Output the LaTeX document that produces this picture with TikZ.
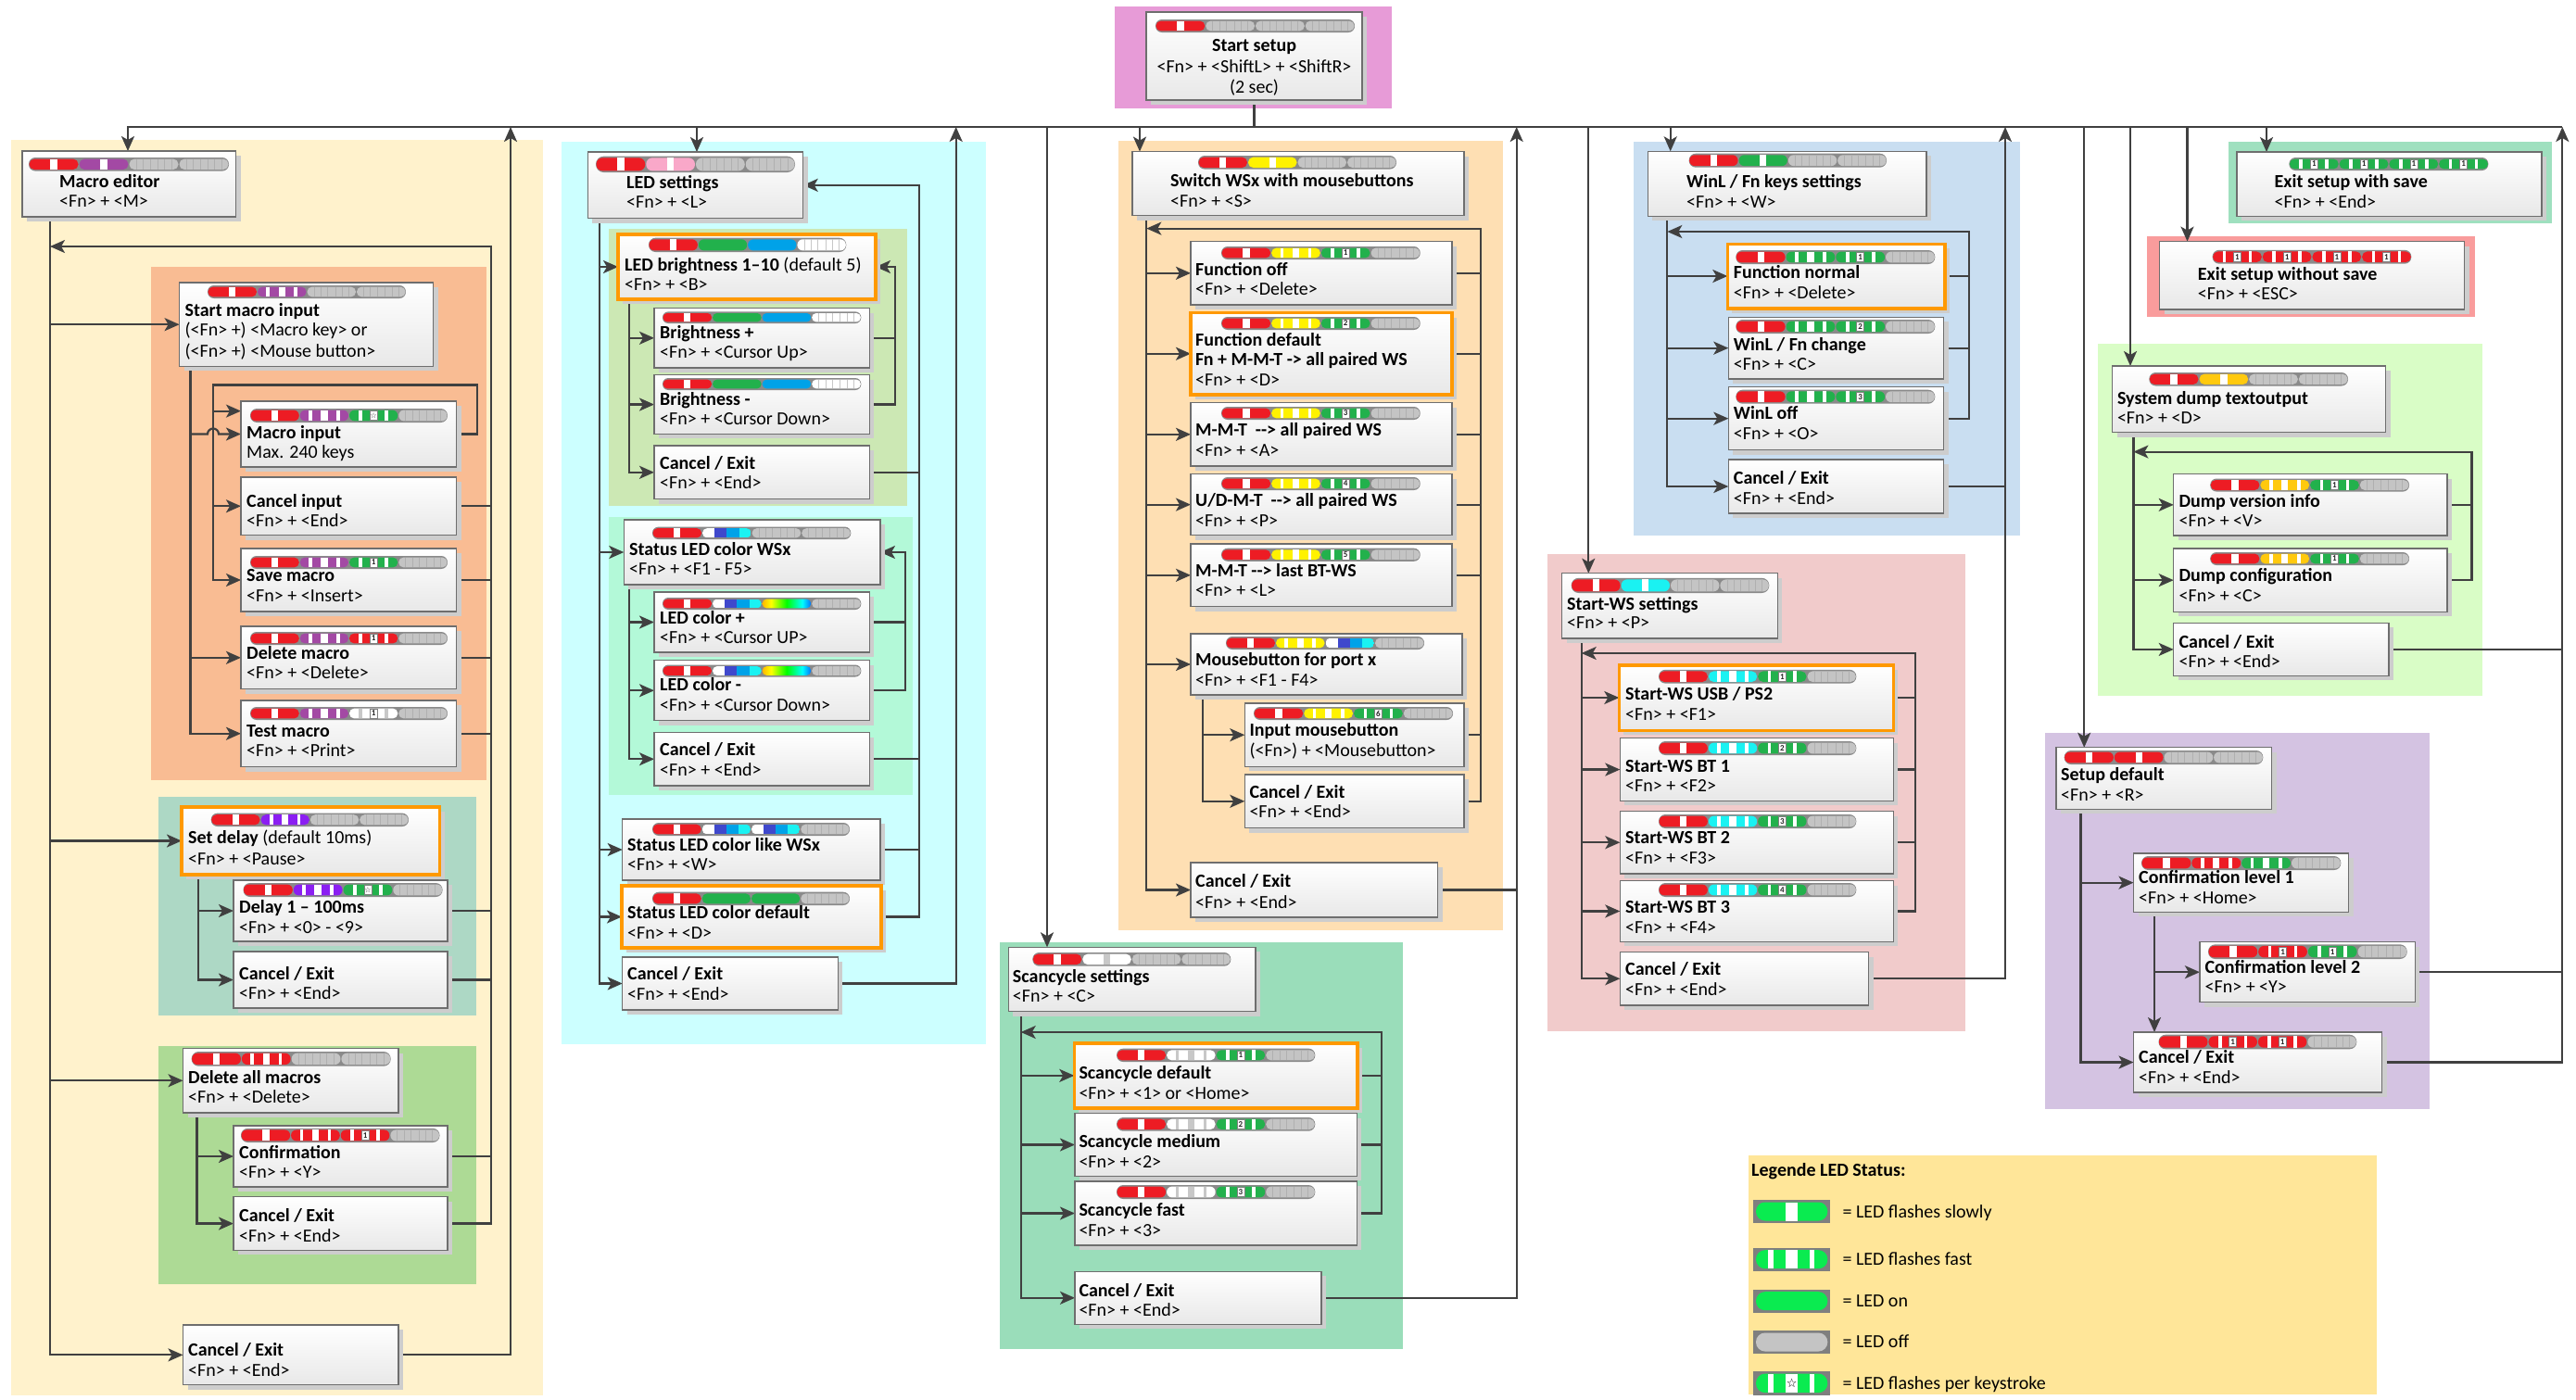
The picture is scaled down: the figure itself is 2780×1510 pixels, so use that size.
\documentclass[tikz,border=0pt]{standalone}
\usepackage{fontspec}
\setmainfont{Carlito}
\newfontfamily\djv{DejaVu Sans}
\usetikzlibrary{arrows.meta,shadows,calc}
\pgfdeclarelayer{bg}\pgfdeclarelayer{lines}\pgfsetlayers{bg,lines,main}
\pgfdeclarehorizontalshading{rainbow}{100bp}{color(0bp)=(red); color(18bp)=(orange); color(34bp)=(yellow); color(50bp)=(green); color(66bp)=(cyan); color(82bp)=(blue); color(100bp)=(magenta)}
\definecolor{linec}{HTML}{404040}
\definecolor{boxline}{HTML}{6E6E6E}
\definecolor{boxbot}{HTML}{E8E8E8}
\definecolor{shadowc}{HTML}{CDCDCD}
\definecolor{orangec}{HTML}{FF9900}
\definecolor{ledframe}{HTML}{8A8A8A}
\definecolor{ledoff}{HTML}{C4C4C4}
\definecolor{ledoffl}{HTML}{B0B0B0}
\definecolor{lred}{HTML}{ED1C24}
\definecolor{lpurple}{HTML}{A349A4}
\definecolor{lviolet}{HTML}{8B1EF2}
\definecolor{lpink}{HTML}{F9A8C9}
\definecolor{lgreen}{HTML}{22B14C}
\definecolor{lblue}{HTML}{00A2E8}
\definecolor{ldblue}{HTML}{3F48CC}
\definecolor{lyellow}{HTML}{FFF200}
\definecolor{lcyan}{HTML}{1AF2F2}
\definecolor{lamber}{HTML}{FFC90E}
\definecolor{lgray}{HTML}{C8C8C8}
\definecolor{leggreen}{HTML}{0AEB50}
\definecolor{legframe}{HTML}{7F7F7F}
\definecolor{bgpink}{HTML}{E79BD7}
\definecolor{bgyellow}{HTML}{FFF2CC}
\definecolor{bgsalmon}{HTML}{F9BC93}
\definecolor{bgteal}{HTML}{ADD8C5}
\definecolor{bggreen}{HTML}{ADDA95}
\definecolor{bgcyan}{HTML}{CCFFFF}
\definecolor{bgbright}{HTML}{CCE8B4}
\definecolor{bgmint}{HTML}{B3F9D8}
\definecolor{bgtan}{HTML}{FEDFB3}
\definecolor{bgscan}{HTML}{9ADDBA}
\definecolor{bgblue}{HTML}{C9DEF1}
\definecolor{bgrose}{HTML}{F1CBCB}
\definecolor{bgsave}{HTML}{9FE0BF}
\definecolor{bgnosave}{HTML}{F99C9C}
\definecolor{bgsys}{HTML}{D9FDC6}
\definecolor{bgpurple}{HTML}{D4C3E2}
\definecolor{bglegend}{HTML}{FFE699}
\newcount\ledi
\newcount\ledn
\newcommand\starsym{{\djv\fontsize{8}{8}\selectfont ☆}}
\newcommand\mkbox[6][box]{\node[#1, minimum width={#5-#3}, minimum height={#6-#4}] (#2) at ({(#3+#5)/2},{(#4+#6)/2}) {};}
\newcommand\mktext[6]{\node[txt] (#1-a) at (#2,#3) {\textbf{#5}};\node[txt] (#1-b) at (#2,#4) {#6};}
\newcommand\ledbar[5]{%
  \pgfmathsetmacro\lbx{#1}\pgfmathsetmacro\lby{#2}%
  \pgfmathsetmacro\lbw{(#3-#1)/4}\pgfmathsetmacro\lbh{#4-#2}%
  \pgfmathsetmacro\lbr{(#4-#2)/2-0.2}%
  \pgfmathsetmacro\lbri{(#4-#2)/2-1.8}%
  \fill[ledframe, rounded corners=\lbr pt] (#1,#2) rectangle (#3,#4);
  \global\ledi=0 #5}
\newcommand\lsegc{%
  \pgfmathsetmacro\sxa{\lbx+\the\ledi*\lbw+0.5}%
  \pgfmathsetmacro\sxb{\lbx+(\the\ledi+1)*\lbw-0.5}%
  \pgfmathsetmacro\sya{\lby+1.6}%
  \pgfmathsetmacro\syb{\lby+\lbh-1.6}%
  \pgfmathsetmacro\lsW{\sxb-\sxa}}
\newcommand\lsegp[1]{\fill[#1, rounded corners=\lbri pt] (\sxa,\sya) rectangle (\sxb,\syb);}
\newcommand\lstripe[3]{\fill[#3] ({\sxa+#1*\lsW},\sya) rectangle ({\sxa+#2*\lsW},\syb);}
\newcommand\lsegdone{\global\advance\ledi by 1\relax}
\newcommand\SgOff{\lsegc\lsegp{ledoff}\foreach \ff in {0.14,0.28,0.42,0.58,0.72,0.86}{\draw[ledoffl, line width=0.5pt] ({\sxa+\ff*\lsW},\sya) -- ({\sxa+\ff*\lsW},\syb);}\lsegdone}
\newcommand\SgOn[1]{\lsegc\lsegp{#1}\lsegdone}
\newcommand\SgWon{\lsegc\lsegp{white}\foreach \ff in {0.14,0.28,0.42,0.58,0.72,0.86}{\draw[lgray, line width=0.6pt] ({\sxa+\ff*\lsW},\sya) -- ({\sxa+\ff*\lsW},\syb);}\lsegdone}
\newcommand\SgSlow[2][white]{\lsegc\lsegp{#2}\lstripe{0.43}{0.57}{#1}\lsegdone}
\newcommand\SgFast[2][white]{\lsegc\lsegp{#2}\lstripe{0.18}{0.25}{#1}\lstripe{0.43}{0.57}{#1}\lstripe{0.75}{0.82}{#1}\lsegdone}
\newcommand\SgNum[3][white]{\lsegc\lsegp{#2}\lstripe{0.2}{0.27}{#1}\lstripe{0.73}{0.8}{#1}%
  \global\advance\ledn by 1
  \node[ledlbl] (ledl\the\ledn) at ({\sxa+0.5*\lsW},{(\sya+\syb)/2}) {#3};\lsegdone}
\newcommand\SgMulti{\lsegc
  \begin{scope}
  \clip[rounded corners=\lbri pt] (\sxa,\sya) rectangle (\sxb,\syb);
  \fill[white] (\sxa,\sya) rectangle ({\sxa+0.25*\lsW},\syb);
  \fill[ldblue] ({\sxa+0.25*\lsW},\sya) rectangle ({\sxa+0.5*\lsW},\syb);
  \fill[lblue] ({\sxa+0.5*\lsW},\sya) rectangle ({\sxa+0.75*\lsW},\syb);
  \fill[lcyan] ({\sxa+0.75*\lsW},\sya) rectangle (\sxb,\syb);
  \end{scope}\lsegdone}
\newcommand\SgRain{\lsegc\shade[shading=rainbow, rounded corners=\lbri pt] (\sxa,\sya) rectangle (\sxb,\syb);\lsegdone}
\newcommand\legicon[3]{%
  \fill[legframe] (1892.3,#1) rectangle (1975,#2);
  \pgfmathsetmacro\sxa{1895}\pgfmathsetmacro\sxb{1972.3}%
  \pgfmathsetmacro\sya{#1+2.5}\pgfmathsetmacro\syb{#2-2.5}%
  \pgfmathsetmacro\lsW{\sxb-\sxa}\pgfmathsetmacro\lbri{(#2-#1)/2-2.7}%
  #3}
\begin{document}
\begin{tikzpicture}[x=1pt,y=-1pt,
  conn/.style={draw=linec, line width=2.2pt},
  arr/.style={conn, -{Stealth[length=16pt,width=14pt,inset=4pt]}},
  box/.style={draw=boxline, line width=1.2pt, top color=white, bottom color=boxbot, inner sep=0pt, outer sep=0pt, general shadow={fill=shadowc, shadow xshift=5pt, shadow yshift=-5pt}},
  obox/.style={box, draw=orangec, line width=3.6pt},
  txt/.style={anchor=mid west, inner sep=0pt, yshift=-3.5pt, font=\fontsize{20}{22}\selectfont},
  ctxt/.style={txt, anchor=mid},
  ledlbl/.style={fill=white, draw=gray, line width=0.5pt, inner sep=0.6pt, minimum width=8pt, minimum height=10pt, font=\fontsize{9}{9}\selectfont\bfseries, text=black!85}]
\useasboundingbox (0,0) rectangle (2780,1510);
% ---------------- backgrounds
\begin{pgfonlayer}{bg}
\fill[white] (0,0) rectangle (2780,1510);
\fill[bgpink] (1203,7) rectangle (1502,117);
\fill[bgyellow] (11.5,151) rectangle (585.5,1506);
\fill[bgsalmon] (163,288) rectangle (525,842);
\fill[bgteal] (171,860) rectangle (513.6,1095.6);
\fill[bggreen] (171,1128.5) rectangle (513.6,1385.7);
\fill[bgcyan] (606,152.8) rectangle (1064,1127);
\fill[bgbright] (657,247) rectangle (979,545.6);
\fill[bgmint] (657,557.7) rectangle (985,857.5);
\fill[bgtan] (1207,152) rectangle (1621.7,1004);
\fill[bgscan] (1079,1016.7) rectangle (1514,1455.7);
\fill[bgblue] (1762.7,153.3) rectangle (2180,578.3);
\fill[bgrose] (1670,598.4) rectangle (2120.7,1113);
\fill[bgsave] (2404.5,153.3) rectangle (2753.7,240.5);
\fill[bgnosave] (2317,255.4) rectangle (2671,342);
\fill[bgsys] (2263.5,371) rectangle (2678.7,750.7);
\fill[bgpurple] (2206.7,791) rectangle (2621.7,1197.3);
\fill[bglegend] (1887,1246.7) rectangle (2565,1505);
\end{pgfonlayer}
% ---------------- boxes
\mkbox{ss}{1237}{13}{1470}{108}
% macro
\mkbox{me}{24}{163}{254.5}{234}
\mkbox{smi}{193.6}{305}{467.7}{395.4}
\mkbox{mi}{260}{433}{492.5}{504}
\mkbox{ci}{260}{515}{492.5}{577.5}
\mkbox{sm}{260}{592}{492.5}{660}
\mkbox{dm}{260}{676}{492.5}{743.6}
\mkbox{tm}{260}{756}{492.5}{827.5}
\mkbox[obox]{sd}{196}{871}{474.5}{944}
\mkbox{dl}{252}{950}{483}{1016}
\mkbox{dce}{252}{1027}{483}{1088}
\mkbox{dam}{197.5}{1131.5}{430}{1201}
\mkbox{cf}{252}{1215}{483}{1281}
\mkbox{dace}{252}{1291.7}{483}{1349.4}
\mkbox{mce}{197.5}{1430}{430}{1494.7}
% LED
\mkbox{ls}{634.3}{164}{866.7}{235.7}
\mkbox[obox]{lb}{667}{253}{945}{323}
\mkbox{bp}{706}{332.6}{938.3}{397}
\mkbox{bm}{706}{404.7}{938.3}{468.4}
\mkbox{bce}{706}{481}{938.3}{538.6}
\mkbox{sc}{673.3}{561}{950}{631}
\mkbox{cp}{706}{639}{938.3}{704}
\mkbox{cm}{706}{712.7}{938.3}{777.8}
\mkbox{cce}{706}{790.5}{938.3}{848}
\mkbox{slw}{671.7}{884}{950}{950}
\mkbox[obox]{sld}{671}{956}{951}{1023}
\mkbox{lce}{671.7}{1033}{904.3}{1090}
% switch
\mkbox{sw}{1222}{163.6}{1580}{232.6}
\mkbox{fo}{1285}{260.6}{1567}{329}
\mkbox[obox]{fd}{1285}{337.5}{1567}{426}
\mkbox{mmt}{1285}{434.6}{1567}{503}
\mkbox{ud}{1285}{511.5}{1567}{577.7}
\mkbox{lbt}{1285}{587}{1567}{654.6}
\mkbox{mbp}{1285}{684}{1578}{750}
\mkbox{imb}{1343.3}{759}{1580}{827.4}
\mkbox{ice}{1343.3}{836}{1580}{893.6}
\mkbox{swce}{1285}{931}{1551.7}{990}
% scancycle
\mkbox{scs}{1088.3}{1022.3}{1355}{1091.7}
\mkbox[obox]{scd}{1159.3}{1126}{1465}{1195.7}
\mkbox{scm}{1160}{1201.7}{1464.3}{1269.3}
\mkbox{scf}{1160}{1275}{1464.3}{1344}
\mkbox{scce}{1160}{1372.3}{1426}{1429.3}
% winl
\mkbox{wl}{1778.3}{163.3}{2079}{233.3}
\mkbox[obox]{fn}{1864.3}{263.3}{2099}{332.7}
\mkbox{wc}{1865.3}{342.3}{2097.7}{409}
\mkbox{wo}{1865.3}{417.7}{2097.7}{485.7}
\mkbox{wce}{1865.3}{496}{2097.7}{554}
% start-ws
\mkbox{st}{1685.7}{618.7}{1918.3}{689}
\mkbox[obox]{su}{1747.3}{717.7}{2043.3}{788.3}
\mkbox{b1}{1748.3}{796.8}{2043.3}{864.3}
\mkbox{b2}{1748.3}{875.5}{2043.3}{943}
\mkbox{b3}{1748.3}{950.5}{2043.3}{1016.4}
\mkbox{stce}{1748.3}{1027.5}{2016.7}{1085}
% exits
\mkbox{ews}{2414}{164}{2743}{233.3}
\mkbox{ewo}{2330.5}{260.6}{2659.7}{334}
% system dump
\mkbox{sys}{2279.7}{395}{2574.5}{466.7}
\mkbox{dv}{2345.7}{511.7}{2641}{578}
\mkbox{dc}{2345.7}{592}{2641}{660.3}
\mkbox{syce}{2345.7}{672.4}{2578}{729.4}
% setup default
\mkbox{sdf}{2219}{806.7}{2451.6}{873.3}
\mkbox{cl1}{2302.5}{921}{2534.8}{984.3}
\mkbox{cl2}{2373.9}{1016.7}{2606.2}{1081.7}
\mkbox{sdce}{2302.5}{1114}{2570.7}{1179}
% ---------------- connectors
\coordinate (busL) at (138,137);
\coordinate (busR) at (2765.3,137);
\coordinate (dMac) at (138,137);
\coordinate (dLed) at (752,137);
\coordinate (dScan) at (1130,137);
\coordinate (dSw) at (1230,137);
\coordinate (dSt) at (1714.3,137);
\coordinate (dWl) at (1802.7,137);
\coordinate (dSdf) at (2249.2,137);
\coordinate (dSys) at (2299,137);
\coordinate (dEwo) at (2360.5,137);
\coordinate (dEws) at (2446,137);
\coordinate (r1) at (551,137);
\coordinate (r2) at (1031.7,137);
\coordinate (r3) at (1636.7,137);
\coordinate (r4) at (2164,137);
\coordinate (r5) at (2765.3,137);
\begin{pgfonlayer}{lines}
\draw[conn] (ss.south) -- (ss.south |- busL);
\draw[arr] (busR) -- (dMac) -- (dMac |- me.north);
\draw[arr] (dLed) -- (dLed |- ls.north);
\draw[arr] (dScan) -- (dScan |- scs.north);
\draw[arr] (dSw) -- (dSw |- sw.north);
\draw[arr] (dSt) -- (dSt |- st.north);
\draw[arr] (dWl) -- (dWl |- wl.north);
\draw[arr] (dSdf) -- (dSdf |- sdf.north);
\draw[arr] (dSys) -- (dSys |- sys.north);
\draw[arr] (dEwo) -- (dEwo |- ewo.north);
\draw[arr] (dEws) -- (dEws |- ews.north);
% macro
\coordinate (mvx) at (54,0);
\draw[arr] (me.south -| mvx) |- (mce.west);
\foreach \nm in {smi,sd,dam} {\draw[arr] (\nm.west -| mvx) -- (\nm.west);}
\coordinate (smx) at (205.5,0);
\draw[arr] (smi.south -| smx) |- (tm.west);
\draw[arr] (dm.west -| smx) -- (dm.west);
\coordinate (mlx) at (230,0);
\coordinate (mlr) at (515,415.5);
\draw[arr] (mi.west -| smx) -- ($(mi.west -| mlx)+(-6,0)$) arc[start angle=180,end angle=360,radius=6] -- (mi.west);
\draw[arr] (mi.east) -- (mi.east -| mlr) |- (mlr -| mlx) |- (sm.west);
\coordinate (miin) at (230,443.6);
\draw[arr] (miin) -- (miin -| mi.west);
\draw[arr] (ci.west -| mlx) -- (ci.west);
\coordinate (rv1) at (530,266);
\draw[arr] (dace.east) -| (rv1) -- (rv1 -| mvx);
\foreach \nm in {ci,sm,dm,tm,dl,dce,cf} {\draw[conn] (\nm.east) -- (\nm.east -| rv1);}
\draw[arr] (mce.east) -| (r1);
\coordinate (sdx) at (214,0);
\draw[arr] (sd.south -| sdx) |- (dce.west);
\draw[arr] (dl.west -| sdx) -- (dl.west);
\coordinate (dax) at (212.4,0);
\draw[arr] (dam.south -| dax) |- (dace.west);
\draw[arr] (cf.west -| dax) -- (cf.west);
% LED
\coordinate (lmx) at (647.3,0);
\draw[arr] (ls.south -| lmx) |- (lce.west);
\foreach \nm in {lb,sc,slw,sld} {\draw[arr] (\nm.west -| lmx) -- (\nm.west);}
\coordinate (lbx) at (679.3,0);
\draw[arr] (lb.south -| lbx) |- (bce.west);
\foreach \nm in {bp,bm} {\draw[arr] (\nm.west -| lbx) -- (\nm.west);}
\coordinate (blx) at (965.7,0);
\draw[arr] (bm.east) -| (lb.east -| blx) -- (lb.east);
\draw[conn] (bp.east) -- (bp.east -| blx);
\coordinate (svx) at (679.3,0);
\draw[arr] (sc.south -| svx) |- (cce.west);
\foreach \nm in {cp,cm} {\draw[arr] (\nm.west -| svx) -- (\nm.west);}
\coordinate (clx) at (976.7,0);
\draw[arr] (cm.east) -| (sc.east -| clx) -- (sc.east);
\draw[conn] (cp.east) -- (cp.east -| clx);
\coordinate (lrx) at (991.7,0);
\draw[arr] (sld.east) -| (ls.east -| lrx) -- (ls.east);
\foreach \nm in {bce,cce,slw} {\draw[conn] (\nm.east) -- (\nm.east -| lrx);}
\draw[arr] (lce.east) -| (r2);
% switch
\coordinate (swx) at (1237.3,0);
\draw[arr] (sw.south -| swx) |- (swce.west);
\foreach \nm in {fo,fd,mmt,ud,lbt,mbp} {\draw[arr] (\nm.west -| swx) -- (\nm.west);}
\coordinate (mbx) at (1297.7,0);
\draw[arr] (mbp.south -| mbx) |- (ice.west);
\draw[arr] (imb.west -| mbx) -- (imb.west);
\coordinate (swl) at (1598,246.6);
\draw[arr] (ice.east) -| (swl) -- (swl -| swx);
\foreach \nm in {fo,fd,mmt,ud,lbt,imb} {\draw[conn] (\nm.east) -- (\nm.east -| swl);}
\draw[arr] (swce.east) -| (r3);
\draw[conn] (scce.east) -| (swce.east -| r3);
% scancycle
\coordinate (scx) at (1101.7,0);
\draw[arr] (scs.south -| scx) |- (scce.west);
\foreach \nm in {scd,scm,scf} {\draw[arr] (\nm.west -| scx) -- (\nm.west);}
\coordinate (scl) at (1490.7,1114);
\draw[arr] (scf.east) -| (scl) -- (scl -| scx);
\foreach \nm in {scd,scm} {\draw[conn] (\nm.east) -- (\nm.east -| scl);}
% winl
\coordinate (wlx) at (1799.3,0);
\draw[arr] (wl.south -| wlx) |- (wce.west);
\foreach \nm in {fn,wc,wo} {\draw[arr] (\nm.west -| wlx) -- (\nm.west);}
\coordinate (wll) at (2125,250);
\draw[arr] (wo.east) -| (wll) -- (wll -| wlx);
\foreach \nm in {fn,wc} {\draw[conn] (\nm.east) -- (\nm.east -| wll);}
\draw[arr] (wce.east) -| (r4);
\draw[conn] (stce.east) -| (wce.east -| r4);
% start-ws
\coordinate (stx) at (1706.7,0);
\draw[arr] (st.south -| stx) |- (stce.west);
\foreach \nm in {su,b1,b2,b3} {\draw[arr] (\nm.west -| stx) -- (\nm.west);}
\coordinate (stl) at (2067.3,705);
\draw[arr] (b3.east) -| (stl) -- (stl -| stx);
\foreach \nm in {su,b1,b2} {\draw[conn] (\nm.east) -- (\nm.east -| stl);}
% system dump
\coordinate (sysx) at (2302.4,0);
\draw[arr] (sys.south -| sysx) |- (syce.west);
\foreach \nm in {dv,dc} {\draw[arr] (\nm.west -| sysx) -- (\nm.west);}
\coordinate (syl) at (2667.5,487.6);
\draw[arr] (dc.east) -| (syl) -- (syl -| sysx);
\draw[conn] (dv.east) -- (dv.east -| syl);
\draw[conn] (syce.east) -- (syce.east -| r5);
% setup default
\coordinate (sdfx) at (2245.5,0);
\draw[arr] (sdf.south -| sdfx) |- (sdce.west);
\draw[arr] (cl1.west -| sdfx) -- (cl1.west);
\coordinate (c1x) at (2325,0);
\draw[arr] (cl1.south -| c1x) -- (sdce.north -| c1x);
\draw[arr] (cl2.west -| c1x) -- (cl2.west);
\draw[conn] (cl2.east) -- (cl2.east -| r5);
\draw[arr] (sdce.east) -| (r5);
\end{pgfonlayer}
% ---------------- LED bars
\ledbar{1247}{21}{1462}{35}{\SgSlow{lred}\SgOff\SgOff\SgOff}
\ledbar{31}{170}{247}{184.6}{\SgSlow{lred}\SgSlow{lpurple}\SgOff\SgOff}
\ledbar{224}{308}{438}{322}{\SgSlow{lred}\SgFast{lpurple}\SgOff\SgOff}
\ledbar{270}{441}{483}{456}{\SgSlow{lred}\SgFast{lpurple}\SgNum{lgreen}{\starsym}\SgOff}
\ledbar{270}{600}{483}{614}{\SgSlow{lred}\SgFast{lpurple}\SgNum{lgreen}{1}\SgOff}
\ledbar{270}{682}{483}{696}{\SgSlow{lred}\SgFast{lpurple}\SgNum{lred}{1}\SgOff}
\ledbar{270}{763}{483}{777}{\SgSlow{lred}\SgFast{lpurple}\SgNum[lgray]{white}{1}\SgOff}
\ledbar{227.7}{877.6}{441}{892}{\SgSlow{lred}\SgFast{lviolet}\SgOff\SgOff}
\ledbar{262.5}{953}{477.6}{968}{\SgSlow{lred}\SgFast{lviolet}\SgNum{lgreen}{\starsym}\SgOff}
\ledbar{206.7}{1135}{421.7}{1150.7}{\SgSlow{lred}\SgFast{lred}\SgOff\SgOff}
\ledbar{260}{1217.8}{474.5}{1233}{\SgSlow{lred}\SgFast{lred}\SgNum{lred}{1}\SgOff}
\ledbar{643}{168.7}{858}{186}{\SgSlow{lred}\SgSlow{lpink}\SgOff\SgOff}
\ledbar{700}{256.7}{913.3}{272}{\SgSlow{lred}\SgOn{lgreen}\SgOn{lblue}\SgWon}
\ledbar{715}{336.4}{929.3}{349}{\SgSlow{lred}\SgOn{lgreen}\SgOn{lblue}\SgWon}
\ledbar{715}{408}{929.3}{421}{\SgSlow{lred}\SgOn{lgreen}\SgOn{lblue}\SgWon}
\ledbar{704}{568.6}{918.3}{582}{\SgSlow{lred}\SgMulti\SgOff\SgOff}
\ledbar{715}{645}{929.3}{658}{\SgSlow{lred}\SgMulti\SgRain\SgOff}
\ledbar{715}{717.5}{929.3}{730.5}{\SgSlow{lred}\SgMulti\SgRain\SgOff}
\ledbar{704}{888}{917}{902}{\SgSlow{lred}\SgMulti\SgMulti\SgOff}
\ledbar{704}{962.7}{917}{977}{\SgSlow{lred}\SgOn{lgreen}\SgOn{lgreen}\SgOff}
\ledbar{1293}{168}{1507}{182.6}{\SgSlow{lred}\SgSlow{lyellow}\SgOff\SgOff}
\ledbar{1318}{266}{1532.7}{280}{\SgSlow{lred}\SgFast{lyellow}\SgNum{lgreen}{1}\SgOff}
\ledbar{1318}{342}{1532.7}{356}{\SgSlow{lred}\SgFast{lyellow}\SgNum{lgreen}{2}\SgOff}
\ledbar{1318}{439}{1532.7}{453}{\SgSlow{lred}\SgFast{lyellow}\SgNum{lgreen}{3}\SgOff}
\ledbar{1318}{515}{1532.7}{529}{\SgSlow{lred}\SgFast{lyellow}\SgNum{lgreen}{4}\SgOff}
\ledbar{1318}{591.7}{1532.7}{605.8}{\SgSlow{lred}\SgFast{lyellow}\SgNum{lgreen}{5}\SgOff}
\ledbar{1323}{687}{1537}{701}{\SgSlow{lred}\SgFast{lyellow}\SgMulti\SgOff}
\ledbar{1353}{763}{1568}{777}{\SgSlow{lred}\SgFast{lyellow}\SgNum{lgreen}{6}\SgOff}
\ledbar{1114.3}{1028}{1328.3}{1042.7}{\SgSlow{lred}\SgSlow[lgray]{white}\SgOff\SgOff}
\ledbar{1205}{1131.7}{1419.3}{1146}{\SgSlow{lred}\SgFast[lgray]{white}\SgNum{lgreen}{1}\SgOff}
\ledbar{1205}{1206}{1419.3}{1220.7}{\SgSlow{lred}\SgFast[lgray]{white}\SgNum{lgreen}{2}\SgOff}
\ledbar{1205}{1279}{1419.3}{1294}{\SgSlow{lred}\SgFast[lgray]{white}\SgNum{lgreen}{3}\SgOff}
\ledbar{1822.7}{165.7}{2036}{180.7}{\SgSlow{lred}\SgSlow{lgreen}\SgOff\SgOff}
\ledbar{1873.3}{270}{2088.3}{285}{\SgSlow{lred}\SgFast{lgreen}\SgNum{lgreen}{1}\SgOff}
\ledbar{1873.3}{345}{2088.3}{360}{\SgSlow{lred}\SgFast{lgreen}\SgNum{lgreen}{2}\SgOff}
\ledbar{1873.3}{420.7}{2088.3}{435.7}{\SgSlow{lred}\SgFast{lgreen}\SgNum{lgreen}{3}\SgOff}
\ledbar{1695.7}{623.8}{1909.3}{640}{\SgSlow{lred}\SgSlow{lcyan}\SgOff\SgOff}
\ledbar{1790}{722.8}{2003.3}{737.6}{\SgSlow{lred}\SgFast{lcyan}\SgNum{lgreen}{1}\SgOff}
\ledbar{1790}{800}{2003.3}{815}{\SgSlow{lred}\SgFast{lcyan}\SgNum{lgreen}{2}\SgOff}
\ledbar{1790}{879}{2003.3}{894}{\SgSlow{lred}\SgFast{lcyan}\SgNum{lgreen}{3}\SgOff}
\ledbar{1790}{953}{2003.3}{968}{\SgSlow{lred}\SgFast{lcyan}\SgNum{lgreen}{4}\SgOff}
\ledbar{2470.4}{170}{2685.4}{184}{\SgNum{lgreen}{1}\SgNum{lgreen}{1}\SgNum{lgreen}{1}\SgNum{lgreen}{1}}
\ledbar{2387.6}{269.8}{2602.3}{284.7}{\SgNum{lred}{1}\SgNum{lred}{1}\SgNum{lred}{1}\SgNum{lred}{1}}
\ledbar{2319.3}{402}{2534}{416.5}{\SgSlow{lred}\SgSlow{lamber}\SgOff\SgOff}
\ledbar{2385.2}{516.5}{2600}{530.6}{\SgSlow{lred}\SgFast{lamber}\SgNum{lgreen}{1}\SgOff}
\ledbar{2385.2}{596}{2600}{610}{\SgSlow{lred}\SgFast{lamber}\SgNum{lgreen}{1}\SgOff}
\ledbar{2227.7}{810}{2442.3}{825}{\SgSlow{lred}\SgSlow{lred}\SgOff\SgOff}
\ledbar{2311}{924}{2526.3}{939}{\SgSlow{lred}\SgFast{lred}\SgFast{lgreen}\SgOff}
\ledbar{2383}{1019.3}{2597.7}{1035}{\SgSlow{lred}\SgNum{lred}{1}\SgNum{lgreen}{1}\SgOff}
\ledbar{2329.5}{1116.7}{2543.3}{1132.3}{\SgSlow{lred}\SgNum{lred}{1}\SgNum{lred}{1}\SgOff}
% ---------------- texts
\node[ctxt] (ss-a) at (1353.5,50) {\textbf{Start setup}};
\node[ctxt] (ss-b) at (1353.5,73) {<Fn> + <ShiftL> + <ShiftR>};
\node[ctxt] (ss-c) at (1353.5,95) {(2 sec)};
\mktext{me}{64}{197}{218}{Macro editor}{<Fn> + <M>}
\mktext{smi}{199.4}{335.5}{357}{Start macro input}{(<Fn> +) <Macro key> or}
\node[txt] (smi-c) at (199.4,380) {(<Fn> +) <Mouse button>};
\mktext{mi}{266}{468}{489}{Macro input}{Max. 240 keys}
\mktext{ci}{266}{542}{563}{Cancel input}{<Fn> + <End>}
\mktext{sm}{266}{622}{643.5}{Save macro}{<Fn> + <Insert>}
\mktext{dm}{266}{705.6}{727}{Delete macro}{<Fn> + <Delete>}
\mktext{tm}{266}{789.5}{811}{Test macro}{<Fn> + <Print>}
\mktext{sd}{203}{905}{927.6}{Set delay \mdseries(default 10ms)}{<Fn> + <Pause>}
\mktext{dl}{258}{980}{1001.5}{Delay 1 -- 100ms}{<Fn> + <0> - <9>}
\mktext{dce}{258}{1051.5}{1073}{Cancel / Exit}{<Fn> + <End>}
\mktext{dam}{203}{1163.5}{1185}{Delete all macros}{<Fn> + <Delete>}
\mktext{cf}{258}{1244.7}{1266}{Confirmation}{<Fn> + <Y>}
\mktext{dace}{258}{1313}{1334.4}{Cancel / Exit}{<Fn> + <End>}
\mktext{mce}{203}{1457.5}{1479.7}{Cancel / Exit}{<Fn> + <End>}
\mktext{ls}{676}{197.4}{219}{LED settings}{<Fn> + <L>}
\mktext{lb}{674}{286.7}{307.7}{LED brightness 1--10 \mdseries(default 5)}{<Fn> + <B>}
\mktext{bp}{712}{360}{380.4}{Brightness +}{<Fn> + <Cursor Up>}
\mktext{bm}{712}{431.5}{452.5}{Brightness -}{<Fn> + <Cursor Down>}
\mktext{bce}{712}{501}{522}{Cancel / Exit}{<Fn> + <End>}
\mktext{sc}{679}{594}{615}{Status LED color WSx}{<Fn> + <F1 - F5>}
\mktext{cp}{712}{667.4}{689}{LED color +}{<Fn> + <Cursor UP>}
\mktext{cm}{712}{740}{762}{LED color -}{<Fn> + <Cursor Down>}
\mktext{cce}{712}{809.6}{832}{Cancel / Exit}{<Fn> + <End>}
\mktext{slw}{677}{913}{934}{Status LED color like WSx}{<Fn> + <W>}
\mktext{sld}{677}{986}{1008}{Status LED color default}{<Fn> + <D>}
\mktext{lce}{677}{1052}{1074}{Cancel / Exit}{<Fn> + <End>}
\mktext{sw}{1263}{196}{217.4}{Switch WSx with mousebuttons}{<Fn> + <S>}
\mktext{fo}{1290}{291.5}{313}{Function off}{<Fn> + <Delete>}
\mktext{fd}{1290}{367.3}{411}{Function default}{<Fn> + <D>}
\node[txt] (fd-c) at (1290,388.6) {\textbf{Fn + M-M-T -> all paired WS}};
\mktext{mmt}{1290}{464.4}{486.8}{M-M-T\ \ -{}-> all paired WS}{<Fn> + <A>}
\mktext{ud}{1290}{541}{562.6}{U/D-M-T\ \ -{}-> all paired WS}{<Fn> + <P>}
\mktext{lbt}{1290}{617}{638}{M-M-T -{}-> last BT-WS}{<Fn> + <L>}
\mktext{mbp}{1290}{712.4}{735}{Mousebutton for port x}{<Fn> + <F1 - F4>}
\mktext{imb}{1348.3}{789}{811}{Input mousebutton}{(<Fn>) + <Mousebutton>}
\mktext{ice}{1348.3}{855.5}{877}{Cancel / Exit}{<Fn> + <End>}
\mktext{swce}{1290}{952}{974.5}{Cancel / Exit}{<Fn> + <End>}
\mktext{scs}{1092.7}{1054.3}{1076}{Scancycle settings}{<Fn> + <C>}
\mktext{scd}{1164.3}{1158.3}{1180.7}{Scancycle default}{<Fn> + <1> or <Home>}
\mktext{scm}{1164.3}{1232.3}{1254.3}{Scancycle medium}{<Fn> + <2>}
\mktext{scf}{1164.3}{1306.7}{1328.3}{Scancycle fast}{<Fn> + <3>}
\mktext{scce}{1164.3}{1393.3}{1414.3}{Cancel / Exit}{<Fn> + <End>}
\mktext{wl}{1820}{196.7}{218.3}{WinL / Fn keys settings}{<Fn> + <W>}
\mktext{fn}{1870.7}{294.3}{316.7}{Function normal}{<Fn> + <Delete>}
\mktext{wc}{1870.7}{372.3}{394}{WinL / Fn change}{<Fn> + <C>}
\mktext{wo}{1870.7}{446.7}{469}{WinL off}{<Fn> + <O>}
\mktext{wce}{1870.7}{516.7}{538.3}{Cancel / Exit}{<Fn> + <End>}
\mktext{st}{1691}{652.5}{672.8}{Start-WS settings}{<Fn> + <P>}
\mktext{su}{1754}{749.8}{771.4}{Start-WS USB / PS2}{<Fn> + <F1>}
\mktext{b1}{1754}{827.5}{849}{Start-WS BT 1}{<Fn> + <F2>}
\mktext{b2}{1754}{905}{927}{Start-WS BT 2}{<Fn> + <F3>}
\mktext{b3}{1754}{980}{1001.5}{Start-WS BT 3}{<Fn> + <F4>}
\mktext{stce}{1754}{1047}{1069}{Cancel / Exit}{<Fn> + <End>}
\mktext{ews}{2454.5}{196.3}{218.4}{Exit setup with save}{<Fn> + <End>}
\mktext{ewo}{2371.7}{296.7}{318}{Exit setup without save}{<Fn> + <ESC>}
\mktext{sys}{2284.8}{430.5}{451.4}{System dump textoutput}{<Fn> + <D>}
\mktext{dv}{2351.4}{541.8}{563}{Dump version info}{<Fn> + <V>}
\mktext{dc}{2351.4}{622}{643.5}{Dump configuration}{<Fn> + <C>}
\mktext{syce}{2351.4}{693.7}{714.6}{Cancel / Exit}{<Fn> + <End>}
\mktext{sdf}{2224}{836.7}{858.3}{Setup default}{<Fn> + <R>}
\mktext{cl1}{2308}{947.3}{969.3}{Confirmation level 1}{<Fn> + <Home>}
\mktext{cl2}{2379.4}{1044.3}{1066}{Confirmation level 2}{<Fn> + <Y>}
\mktext{sdce}{2308}{1141.7}{1163.3}{Cancel / Exit}{<Fn> + <End>}
% ---------------- legend
\node[txt] (legT) at (1890,1263.3) {\textbf{Legende LED Status:}};
\legicon{1295}{1320}{\lsegp{leggreen}\lstripe{0.42}{0.58}{white}}
\legicon{1346.7}{1371.7}{\lsegp{leggreen}\lstripe{0.17}{0.24}{white}\lstripe{0.42}{0.58}{white}\lstripe{0.75}{0.82}{white}}
\legicon{1391.7}{1416.7}{\lsegp{leggreen}}
\legicon{1436}{1461}{\lsegp{ledoff}}
\legicon{1480}{1505.7}{\lsegp{leggreen}\lstripe{0.17}{0.24}{white}\lstripe{0.42}{0.58}{white}\lstripe{0.75}{0.82}{white}\node[inner sep=0pt] (legstar) at ({\sxa+0.5*\lsW},{(\sya+\syb)/2}) {\djv\fontsize{13}{13}\selectfont ☆};}
\node[txt] (leg1) at (1988.3,1308.3) {= LED flashes slowly};
\node[txt] (leg2) at (1988.3,1359.3) {= LED flashes fast};
\node[txt] (leg3) at (1988.3,1404.3) {= LED on};
\node[txt] (leg4) at (1988.3,1448.3) {= LED off};
\node[txt] (leg5) at (1988.3,1493.3) {= LED flashes per keystroke};
\end{tikzpicture}
\end{document}
